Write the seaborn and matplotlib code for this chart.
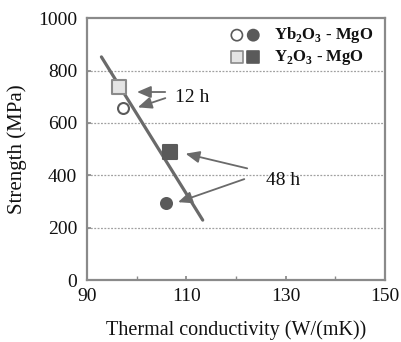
import matplotlib
matplotlib.use("Agg")
import matplotlib.pyplot as plt
import seaborn as sns
import pandas as pd
from matplotlib.ticker import MultipleLocator

# data
systems = ["Yb2O3 - MgO", "Yb2O3 - MgO", "Y2O3 - MgO", "Y2O3 - MgO"]
times = ["12 h", "48 h", "12 h", "48 h"]
conductivity = [97.3, 105.9, 96.4, 106.7]
strength = [658, 293, 738, 490]
fit_x = [92.9, 113.3]
fit_y = [852, 229]
x_ticks = [90, 110, 130, 150]
y_ticks = [0, 200, 400, 600, 800, 1000]

sns.set_theme(style="white")
plt.rcParams['font.family'] = ['Liberation Serif', 'DejaVu Serif']
plt.rcParams['mathtext.fontset'] = 'custom'
plt.rcParams['mathtext.rm'] = 'Liberation Serif'
plt.rcParams['mathtext.bf'] = 'Liberation Serif:bold'

fig = plt.figure(figsize=(4.01, 3.42), dpi=100)
ax = fig.add_axes([0.217, 0.181, 0.743, 0.766])

df = pd.DataFrame({"system": systems, "time": times, "k": conductivity, "s": strength})
line_df = pd.DataFrame({"k": fit_x, "s": fit_y})

# grid
for yv in y_ticks[1:-1]:
    ax.axhline(yv, color="#a0a0a0", lw=0.9, ls=(0, (1.5, 1.2)), zorder=0)

sns.lineplot(data=line_df, x="k", y="s", ax=ax, color="#6a6a6a", lw=2.3, zorder=2)

styles = {
    ("Yb2O3 - MgO", "12 h"): dict(marker="o", s=62, facecolor="white", edgecolor="#5a5a5a"),
    ("Yb2O3 - MgO", "48 h"): dict(marker="o", s=62, facecolor="#5a5a5a", edgecolor="#5a5a5a"),
    ("Y2O3 - MgO", "12 h"): dict(marker="s", s=100, facecolor="#e4e4e4", edgecolor="#8a8a8a"),
    ("Y2O3 - MgO", "48 h"): dict(marker="s", s=100, facecolor="#5a5a5a", edgecolor="#5a5a5a"),
}
for (sysname, t), st in styles.items():
    sub = df[(df.system == sysname) & (df.time == t)]
    sns.scatterplot(data=sub, x="k", y="s", ax=ax, marker=st["marker"], s=st["s"],
                    color=st["facecolor"], edgecolor=st["edgecolor"], linewidth=1.5, zorder=3,
                    legend=False)

arrow_kw = dict(arrowstyle="-|>,head_length=0.7,head_width=0.3", color="#6a6a6a", lw=1.3)
# 12 h arrows
ax.annotate("", xy=(99.5, 718), xytext=(106.3, 718), arrowprops=arrow_kw)
ax.annotate("", xy=(99.7, 656), xytext=(106.3, 698), arrowprops=arrow_kw)
ax.text(107.8, 698, "12 h", fontsize=14, va="center", ha="left", color="#111111")
# 48 h arrows
ax.annotate("", xy=(109.3, 485), xytext=(122.8, 424), arrowprops=arrow_kw)
ax.annotate("", xy=(107.8, 294), xytext=(122.2, 389), arrowprops=arrow_kw)
ax.text(126.0, 382, "48 h", fontsize=14, va="center", ha="left", color="#111111")

# legend (manual, in axes coords)
ly1, ly2 = 0.935, 0.851
ax.scatter([0.503, 0.558], [ly1, ly1], transform=ax.transAxes, marker="o", s=65,
           facecolors=["white", "#5a5a5a"], edgecolors=["#5a5a5a", "#5a5a5a"], linewidths=1.2, zorder=4)
ax.scatter([0.503, 0.558], [ly2, ly2], transform=ax.transAxes, marker="s", s=75,
           facecolors=["#e4e4e4", "#5a5a5a"], edgecolors=["#8a8a8a", "#5a5a5a"], linewidths=1.2, zorder=4)
ax.text(0.628, ly1, r"Yb$_\mathbf{2}$O$_\mathbf{3}$ - MgO", transform=ax.transAxes, fontsize=12,
        fontweight="bold", va="center", ha="left", color="#111111")
ax.text(0.628, ly2, r"Y$_\mathbf{2}$O$_\mathbf{3}$ - MgO", transform=ax.transAxes, fontsize=12,
        fontweight="bold", va="center", ha="left", color="#111111")

ax.set_xlim(90, 150)
ax.set_ylim(0, 1000)
ax.set_xticks(x_ticks)
ax.set_yticks(y_ticks)
ax.xaxis.set_minor_locator(MultipleLocator(10))
ax.tick_params(axis="both", which="both", direction="in", length=3, color="#8a8a8a",
               labelsize=14, labelcolor="#111111")
ax.tick_params(axis="y", pad=7)
ax.tick_params(axis="x", pad=6)
ax.tick_params(axis="x", which="minor", length=3, bottom=True)
ax.tick_params(axis="x", which="major", bottom=True)
ax.tick_params(axis="y", which="major", left=True)
ax.set_xlabel("Thermal conductivity (W/(mK))", fontsize=14.5, labelpad=11, color="#111111")
ax.set_ylabel("Strength (MPa)", fontsize=15, labelpad=8, color="#111111")
for sp in ax.spines.values():
    sp.set_color("#8a8a8a")
    sp.set_linewidth(1.6)

fig.savefig("out.png", dpi=100)
